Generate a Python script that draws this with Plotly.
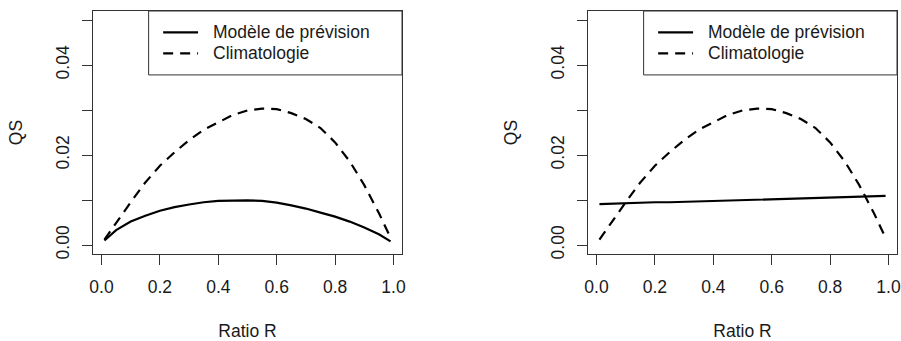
import plotly.graph_objects as go

# ---- data ----
ratio_r = [0.01, 0.05, 0.10, 0.15, 0.20, 0.25, 0.30, 0.35, 0.40, 0.45, 0.50,
           0.55, 0.60, 0.65, 0.70, 0.75, 0.80, 0.85, 0.90, 0.95, 0.99]
qs_climatologie = [0.0012, 0.0050, 0.0095, 0.0139, 0.0176, 0.0206, 0.0233, 0.0256,
                   0.0273, 0.0289, 0.0299, 0.0303, 0.0302, 0.0293, 0.0280, 0.0260,
                   0.0228, 0.0186, 0.0133, 0.0071, 0.0016]
qs_modele_gauche = [0.0010, 0.0033, 0.0052, 0.0065, 0.0076, 0.0084, 0.0090, 0.0095,
                    0.0098, 0.0099, 0.0099, 0.0098, 0.0094, 0.0088, 0.0081, 0.0072,
                    0.0063, 0.0052, 0.0039, 0.0024, 0.0008]
qs_modele_droite = [0.0091, 0.0092, 0.0093, 0.0094, 0.0095, 0.0095, 0.0096, 0.0097,
                    0.0098, 0.0099, 0.0100, 0.0101, 0.0102, 0.0102, 0.0103, 0.0104,
                    0.0105, 0.0106, 0.0107, 0.0108, 0.0109]

x_ticks = [0.0, 0.2, 0.4, 0.6, 0.8, 1.0]
x_tick_labels = ["0.0", "0.2", "0.4", "0.6", "0.8", "1.0"]
y_ticks = [0.00, 0.01, 0.02, 0.03, 0.04, 0.05]
y_tick_labels = ["0.00", "", "0.02", "", "0.04", ""]

legend_labels = ["Modèle de prévision", "Climatologie"]
x_title = "Ratio R"
y_title = "QS"

# ---- style ----
FONT = "Liberation Sans, Arial, sans-serif"
FS = 17.5
TXT = "#1a1a1a"
AXC = "#333333"
LW = 2.2
DASH = "10px,7px"
W, H = 901, 341

fig = go.Figure()

panels = [
    ("x", "y", qs_modele_gauche),
    ("x2", "y2", qs_modele_droite),
]
for xa, ya, modele in panels:
    fig.add_trace(go.Scatter(x=ratio_r, y=modele, mode="lines", xaxis=xa, yaxis=ya,
                             line=dict(color="black", width=LW), showlegend=False,
                             name=legend_labels[0]))
    fig.add_trace(go.Scatter(x=ratio_r, y=qs_climatologie, mode="lines", xaxis=xa, yaxis=ya,
                             line=dict(color="black", width=LW, dash=DASH), showlegend=False,
                             name=legend_labels[1]))

# plot region geometry (pixels)
top_px, bot_px = 11, 254
doms = [(93, 402), (588, 897)]
ydom = [(H - bot_px) / H, (H - top_px) / H]

xr = [0.01 - 0.04 * 0.98, 0.99 + 0.04 * 0.98]
yr = [-0.002, 0.052]

common_x = dict(range=xr, tickvals=x_ticks, ticktext=x_tick_labels, ticks="outside",
                ticklen=10, tickwidth=1, tickcolor=AXC, showline=True, mirror=True,
                linecolor=AXC, linewidth=1, showgrid=False, zeroline=False,
                ticklabelstandoff=7,
                tickfont=dict(family=FONT, size=FS, color=TXT), automargin=False,
                title=dict(text=x_title, font=dict(family=FONT, size=FS, color=TXT), standoff=28))
common_y = dict(range=yr, tickvals=y_ticks, ticktext=y_tick_labels, ticks="outside",
                ticklen=10, tickwidth=1, tickcolor=AXC, showline=True, mirror=True,
                linecolor=AXC, linewidth=1, showgrid=False, zeroline=False, tickangle=-90,
                ticklabelstandoff=6,
                tickfont=dict(family=FONT, size=FS, color=TXT), automargin=False,
                title=dict(text=y_title, font=dict(family=FONT, size=FS, color=TXT), standoff=25))

layout = dict(width=W, height=H, margin=dict(l=0, r=0, t=0, b=0),
              paper_bgcolor="white", plot_bgcolor="white", showlegend=False)
for i, (x0, x1) in enumerate(doms):
    sfx = "" if i == 0 else str(i + 1)
    layout["xaxis" + sfx] = dict(common_x, domain=[x0 / W, x1 / W], anchor="y" + sfx)
    layout["yaxis" + sfx] = dict(common_y, domain=ydom, anchor="x" + sfx)
fig.update_layout(**layout)

# ---- legends (one per panel, drawn like R's legend box) ----
lg_left, lg_bottom = 0.18, 0.737
row_y = [0.912, 0.826]
line_x = [0.227, 0.340]
text_x = 0.383
styles = [None, DASH]
for i in range(2):
    xd = "x domain" if i == 0 else "x2 domain"
    yd = "y domain" if i == 0 else "y2 domain"
    fig.add_shape(type="rect", xref=xd, yref=yd, x0=lg_left, x1=1, y0=lg_bottom, y1=1,
                  line=dict(color=AXC, width=1), fillcolor="white", layer="above")
    for k in range(2):
        ln = dict(color="black", width=LW)
        if styles[k]:
            ln["dash"] = styles[k]
        fig.add_shape(type="line", xref=xd, yref=yd, x0=line_x[0], x1=line_x[1],
                      y0=row_y[k], y1=row_y[k], line=ln, layer="above")
        fig.add_annotation(xref=xd, yref=yd, x=text_x, y=row_y[k], text=legend_labels[k],
                           showarrow=False, xanchor="left", yanchor="middle",
                           font=dict(family=FONT, size=FS, color=TXT))

fig.write_html("out.html", config={"displayModeBar": False},
               post_script="document.body.style.margin='0';document.body.style.overflow='hidden';")
